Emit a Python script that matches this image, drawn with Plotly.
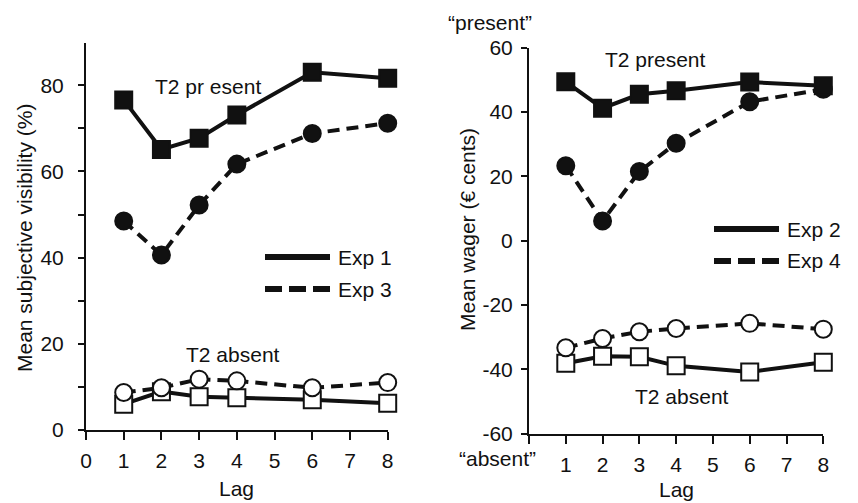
import plotly.graph_objects as go

lags = [1, 2, 3, 4, 6, 8]

# Left panel: mean subjective visibility (%)
exp1_present = [76.6, 65.1, 67.7, 73.1, 83.0, 81.6]
exp3_present = [48.5, 40.6, 52.2, 61.7, 68.8, 71.2]
exp1_absent = [6.0, 8.9, 7.7, 7.5, 7.0, 6.2]
exp3_absent = [8.7, 9.8, 11.8, 11.4, 9.8, 11.0]

# Right panel: mean wager (euro cents)
exp2_present = [49.4, 41.2, 45.5, 46.6, 49.3, 48.2]
exp4_present = [23.3, 6.1, 21.5, 30.3, 43.2, 47.1]
exp2_absent = [-38.1, -35.9, -36.1, -38.9, -40.8, -37.8]
exp4_absent = [-33.3, -30.4, -28.3, -27.3, -25.7, -27.5]

x_ticks = [0, 1, 2, 3, 4, 5, 6, 7, 8]
left_y_ticks = [0, 20, 40, 60, 80]
left_y_minor = [10, 30, 50, 70]
right_y_ticks = [-60, -40, -20, 0, 20, 40, 60]
right_y_labels = ["-60", "-40", "-20", "0", "20", "40", "60"]

# page body has an 8px margin; figure placed so it fills the 858x503 window
OFF = 8
W, H = 858 - OFF, 503 - OFF
FONT = "Liberation Sans, Arial, Helvetica, sans-serif"
FS = 21
BLACK = "#111111"
DASH = "12px,7px"


def fx(rx):
    return (rx - OFF) / W


def fy(ry):
    return 1 - (ry - OFF) / H


fig = go.Figure()


def add(x, y, xa, ya, symbol, dash, filled):
    fig.add_trace(go.Scatter(
        x=x, y=y, xaxis=xa, yaxis=ya, mode="lines+markers",
        line=dict(color=BLACK, width=4, dash=dash),
        marker=dict(symbol=symbol, size=17,
                    color=BLACK if filled else "white",
                    line=dict(color=BLACK, width=2)),
        cliponaxis=False, showlegend=False, hoverinfo="x+y"))


add(lags, exp1_absent, "x", "y", "square", "solid", False)
add(lags, exp3_absent, "x", "y", "circle", DASH, False)
add(lags, exp3_present, "x", "y", "circle", DASH, True)
add(lags, exp1_present, "x", "y", "square", "solid", True)

add(lags, exp2_absent, "x2", "y2", "square", "solid", False)
add(lags, exp4_absent, "x2", "y2", "circle", DASH, False)
add(lags, exp4_present, "x2", "y2", "circle", DASH, True)
add(lags, exp2_present, "x2", "y2", "square", "solid", True)

axis_common = dict(showline=True, linecolor=BLACK, linewidth=2, ticks="outside",
                   tickcolor=BLACK, tickwidth=2, showgrid=False, zeroline=False,
                   automargin=False,
                   tickfont=dict(family=FONT, size=FS, color=BLACK))

fig.update_layout(
    width=W, height=H, margin=dict(l=0, r=0, t=0, b=0, autoexpand=False),
    paper_bgcolor="white", plot_bgcolor="white",
    font=dict(family=FONT, size=FS, color=BLACK),
    xaxis=dict(domain=[fx(86), fx(387.7)], range=[0, 8], tickvals=x_ticks,
               ticklen=8, anchor="y", ticklabelstandoff=3, **axis_common),
    yaxis=dict(domain=[fy(430), fy(43)], range=[0, 89.8],
               tickvals=left_y_ticks, ticklen=6, anchor="x", ticklabelstandoff=10,
               minor=dict(tickvals=left_y_minor, ticks="outside", ticklen=6,
                          tickcolor=BLACK, tickwidth=2),
               **axis_common),
    xaxis2=dict(domain=[fx(529), fx(823.3)], range=[0, 8], tickvals=x_ticks,
                ticktext=["", "1", "2", "3", "4", "5", "6", "7", "8"],
                ticklen=8, anchor="y2", ticklabelstandoff=3, **axis_common),
    yaxis2=dict(domain=[fy(433.7), fy(47.7)], range=[-60, 60],
                tickvals=right_y_ticks, ticktext=right_y_labels, ticklen=6,
                anchor="x2", ticklabelstandoff=4, **axis_common),
)


def px(x, y, text, **kw):
    d = dict(x=fx(x), y=fy(y), xref="paper", yref="paper", text=text,
             xanchor="center", yanchor="middle",
             showarrow=False, font=dict(family=FONT, size=FS, color=BLACK))
    d.update(kw)
    fig.add_annotation(**d)


# axis titles
px(24, 238, "Mean subjective visibility (%)", textangle=-90)
px(467, 230, "Mean wager (€ cents)", textangle=-90)
px(236.5, 488, "Lag")
px(676.5, 489, "Lag")
px(490, 23, "“present”")
px(497, 458, "“absent”")

# in-plot labels
for xr, yr, xv, yv, txt in [("x", "y", 3.24, 79.6, "T2 pr esent"),
                            ("x", "y", 3.9, 17.6, "T2 absent"),
                            ("x2", "y2", 3.45, 56.2, "T2 present"),
                            ("x2", "y2", 4.16, -48.5, "T2 absent")]:
    fig.add_annotation(x=xv, y=yv, xref=xr, yref=yr, text=txt, showarrow=False,
                       xanchor="center", yanchor="middle",
                       font=dict(family=FONT, size=FS, color=BLACK))


# legend keys
def key(x0, x1, y, dash, label):
    fig.add_shape(type="line", xref="paper", yref="paper", x0=fx(x0), x1=fx(x1),
                  y0=fy(y), y1=fy(y),
                  line=dict(color=BLACK, width=6, dash=dash))
    px(x1 + 6, y, label, xanchor="left")


key(265, 330, 257, "solid", "Exp 1")
key(265, 330, 289, "17px,7px", "Exp 3")
key(714, 779, 229, "solid", "Exp 2")
key(714, 779, 261, "17px,7px", "Exp 4")

fig.write_html("out.html")
